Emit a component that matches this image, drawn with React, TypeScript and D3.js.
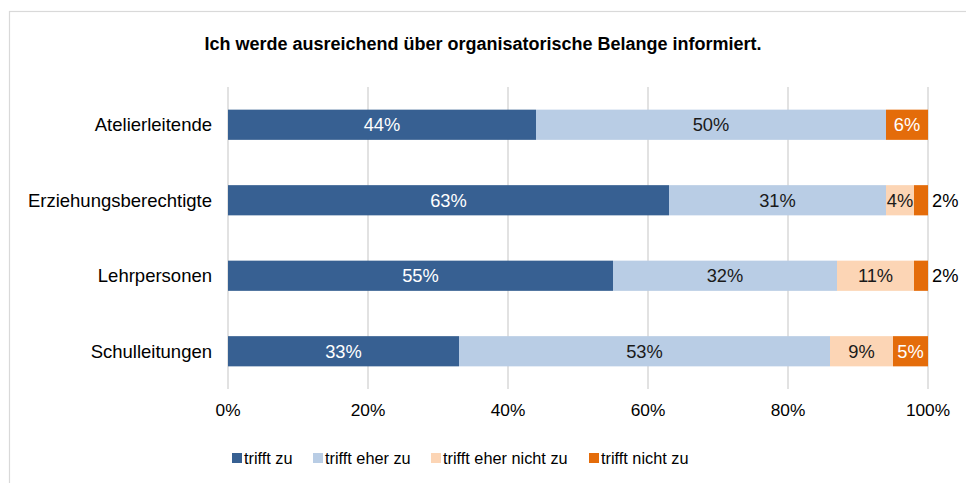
import React from "react";
import * as d3 from "d3";

const categories = ["Atelierleitende", "Erziehungsberechtigte", "Lehrpersonen", "Schulleitungen"];
const seriesNames = ["trifft zu", "trifft eher zu", "trifft eher nicht zu", "trifft nicht zu"];
const triffZu = [44, 63, 55, 33];
const triffEherZu = [50, 31, 32, 53];
const triffEherNichtZu = [0, 4, 11, 9];
const triffNichtZu = [6, 2, 2, 5];
const tickValues = [0, 20, 40, 60, 80, 100];
const title = "Ich werde ausreichend über organisatorische Belange informiert.";

const colors = ["#376092", "#B9CDE5", "#FCD5B5", "#E46C0A"];
const labelColors = ["#ffffff", "#1a1a1a", "#1a1a1a", "#ffffff"];
const FONT = "'Liberation Sans', Arial, sans-serif";

export default function App() {
  const W = 966, H = 483;
  const x = d3.scaleLinear().domain([0, 100]).range([228, 928]);
  const y = d3.scaleBand<string>().domain(categories).range([87, 389]).paddingInner(0.6).paddingOuter(0.3);
  const series = [triffZu, triffEherZu, triffEherNichtZu, triffNichtZu];
  const rows = categories.map((c, i) => {
    let acc = 0;
    return series.map((s, k) => {
      const v = s[i];
      const x0 = acc;
      acc += v;
      return { c, k, v, x0, x1: acc };
    });
  });
  const legendX = [232, 313, 431, 589];
  return (
    <svg width={W} height={H} style={{ position: "absolute", left: 0, top: 0, background: "#fff" }} fontFamily={FONT}>
      <rect x={9.5} y={11.5} width={1000} height={600} fill="#fff" stroke="#d9d9d9" strokeWidth={1.2} />
      <text x={483} y={44} textAnchor="middle" dy="0.35em" fontSize={18} fontWeight="bold" fill="#000">{title}</text>
      {tickValues.map((t) => (
        <g key={t}>
          <line x1={x(t)} x2={x(t)} y1={87} y2={389} stroke="#d9d9d9" strokeWidth={1.5} />
          <text x={x(t)} y={410} textAnchor="middle" dy="0.35em" fontSize={17.3} fill="#000">{t}%</text>
        </g>
      ))}
      {categories.map((c) => (
        <text key={c} x={212} y={(y(c) as number) + y.bandwidth() / 2} textAnchor="end" dy="0.35em" fontSize={18.5} fill="#000">{c}</text>
      ))}
      {rows.map((r) =>
        r.map((d) =>
          d.v > 0 ? (
            <rect key={d.c + d.k} x={x(d.x0)} y={y(d.c)} width={x(d.x1) - x(d.x0)} height={y.bandwidth()} fill={colors[d.k]} />
          ) : null
        )
      )}
      {rows.map((r) =>
        r.map((d) => {
          if (d.v <= 0) return null;
          const cy = (y(d.c) as number) + y.bandwidth() / 2;
          const w = x(d.x1) - x(d.x0);
          const inside = w > 20;
          return (
            <text
              key={"l" + d.c + d.k}
              x={inside ? (x(d.x0) + x(d.x1)) / 2 : x(d.x1) + 4}
              y={cy}
              dy="0.35em"
              textAnchor={inside ? "middle" : "start"}
              fontSize={18.3}
              fill={inside ? labelColors[d.k] : "#000"}
            >
              {d.v}%
            </text>
          );
        })
      )}
      {seriesNames.map((s, i) => (
        <g key={s}>
          <rect x={legendX[i]} y={453} width={10} height={10} fill={colors[i]} />
          <text x={legendX[i] + 12} y={458} dy="0.35em" fontSize={16.3} fill="#000">{s}</text>
        </g>
      ))}
    </svg>
  );
}
